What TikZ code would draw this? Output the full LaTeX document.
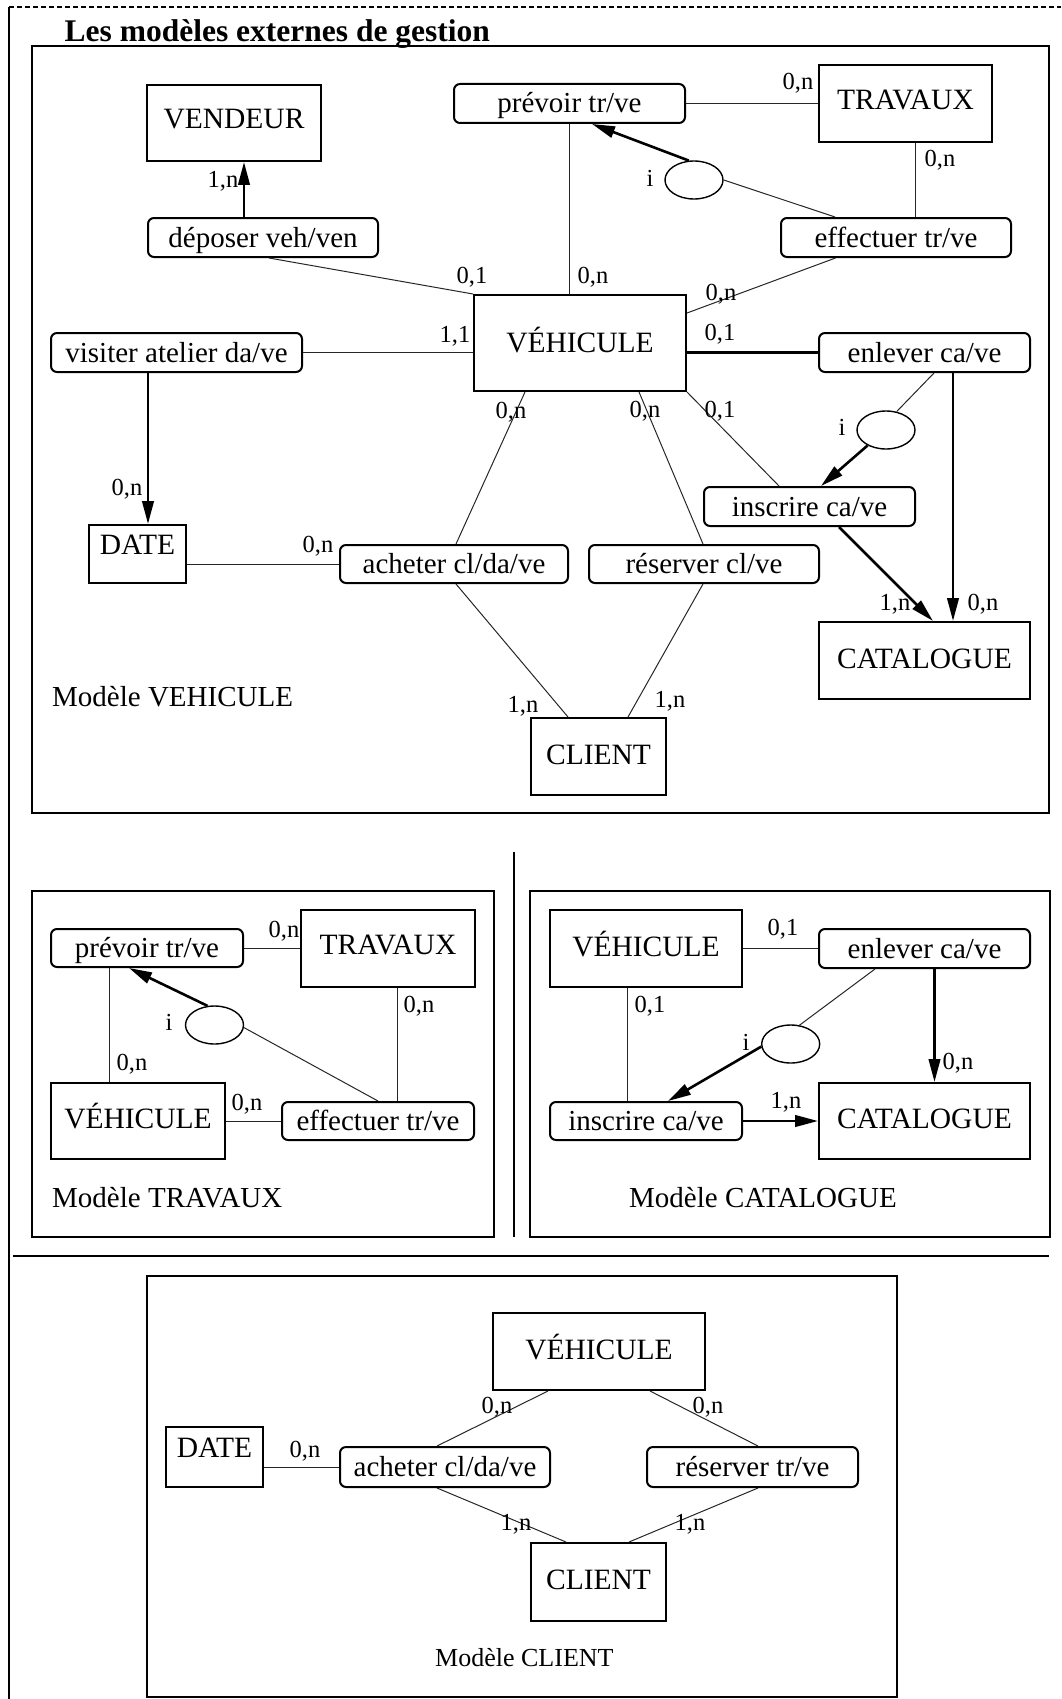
\documentclass[tikz,border=0pt]{standalone}
\usepackage{fontspec}
\setmainfont{Liberation Serif}
\usetikzlibrary{arrows.meta,shapes.geometric}
\tikzset{
  ent/.style={draw, line width=2pt, rectangle, inner sep=0pt, font=\fontsize{29.5}{31}\selectfont, text height=19pt, text depth=4pt},
  rel/.style={draw, line width=2pt, rounded corners=6pt, inner sep=0pt, font=\fontsize{29}{31}\selectfont, text height=23pt, text depth=4pt},
  card/.style={font=\fontsize{24.5}{26}\selectfont, inner sep=0pt, anchor=base},
  ttl/.style={font=\fontsize{29}{31}\selectfont, inner sep=0pt, anchor=base west},
  thn/.style={line width=1pt, black!85},
  thk/.style={line width=2.6pt},
  arr/.style={thk, -{Triangle[length=23pt,width=11.5pt]}},
  ass/.style={draw, ellipse, line width=1.4pt, minimum width=58pt, minimum height=38pt, inner sep=0pt},
  frame/.style={line width=2.2pt},
}
\begin{document}
\begin{tikzpicture}[x=1pt,y=-1pt]
\useasboundingbox (0,0) rectangle (1061,1699);
% page frame
\draw[line width=1.2pt, dash pattern=on 5pt off 3pt] (9,7) -- (1061,7);
\draw[line width=2pt] (9,7) -- (9,1699);
\node[font=\bfseries\fontsize{31.5}{33}\selectfont, inner sep=0pt, anchor=base west] (title) at (64.5,42) {Les modèles externes de gestion};
% ================= Modèle VEHICULE
\draw[frame] (32,46) rectangle (1049,813);
\node[ent, minimum width=174pt, minimum height=76pt, text depth=7pt] (ven) at (234,123) {VENDEUR};
\node[rel, minimum width=230pt, minimum height=39pt] (dep) at (263,237.5) {déposer veh/ven};
\node[rel, minimum width=231pt, minimum height=39pt] (pre) at (569.5,103.5) {prévoir tr/ve};
\node[ent, minimum width=173pt, minimum height=77pt, text depth=7pt] (tra) at (905.5,103.5) {TRAVAUX};
\node[rel, minimum width=230pt, minimum height=39pt] (eff) at (896,237.5) {effectuer tr/ve};
\node[ent, minimum width=212pt, minimum height=96pt, text depth=0pt] (veh) at (580,343) {VÉHICULE};
\node[rel, minimum width=251pt, minimum height=39pt] (vis) at (176.5,352.5) {visiter atelier da/ve};
\node[rel, minimum width=211pt, minimum height=39pt] (enl) at (924.5,352.5) {enlever ca/ve};
\node[ass] (e1) at (694,180) {};
\node[ass] (e2) at (886,430) {};
\node[rel, minimum width=211pt, minimum height=39pt] (ins) at (809.5,506.5) {inscrire ca/ve};
\node[ent, minimum width=97pt, minimum height=58pt, text depth=18pt] (dat) at (137.5,554) {DATE};
\node[rel, minimum width=228pt, minimum height=38pt] (ach) at (454,564) {acheter cl/da/ve};
\node[rel, minimum width=230pt, minimum height=38pt] (res) at (704,564) {réserver cl/ve};
\node[ent, minimum width=211pt, minimum height=77pt] (cat) at (924.5,660.5) {CATALOGUE};
\node[ent, minimum width=135pt, minimum height=77pt] (cli) at (598.5,756.5) {CLIENT};
\node[ttl] (m1) at (52,706) {Modèle VEHICULE};

\draw[arr] ([xshift=-19pt]dep.north) -- ([xshift=-19pt]dep.north |- ven.south);
\draw[thn] ([xshift=6pt]dep.south) -- (veh.north west);
\draw[thn] (vis.east) -- (vis.east -| veh.west);
\draw[arr] ([xshift=-28.5pt]vis.south) -- ([xshift=-28.5pt]vis.south |- dat.north);
\draw[thn] (ach.west -| dat.east) -- (ach.west);
\draw[thn] ([xshift=2pt]ach.north) -- ([xshift=-55pt]veh.south);
\draw[thn] ([xshift=2pt]ach.south) -- ([xshift=-30.5pt]cli.north);
\draw[thn] ([xshift=-1pt]res.north) -- ([xshift=59pt]veh.south);
\draw[thn] ([xshift=-1pt]res.south) -- ([xshift=29.5pt]cli.north);
\draw[thn] (veh.south east) -- ([xshift=-30.5pt]ins.north);
\draw[thk] (enl.west -| veh.east) -- (enl.west);
\draw[thn] ([yshift=30pt]veh.east) -- ([xshift=-60.5pt]eff.south);
\draw[thn] ([xshift=19pt]eff.north) -- ([xshift=19pt]eff.north |- tra.south);
\draw[thn] (pre.east) -- (pre.east -| tra.west);
\draw[thn] (pre.south) -- (pre.south |- veh.north);
\draw[arr] (e1.105) -- ([xshift=22.5pt]pre.south);
\draw[thn] (e1.east) -- ([xshift=-61pt]eff.north);
\draw[thn] ([xshift=9.5pt]enl.south) -- (e2.60);
\draw[arr] (e2.220) -- ([xshift=11.5pt]ins.north);
\draw[arr] ([xshift=29.5pt]ins.south) -- ([xshift=8.5pt]cat.north);
\draw[arr] ([xshift=28.5pt]enl.south) -- ([xshift=28.5pt]enl.south |- cat.north);

\node[card] at (223,188) {1,n};
\node[card] at (472,283) {0,1};
\node[card] at (455,342) {1,1};
\node[card] at (127,495) {0,n};
\node[card] at (318,552) {0,n};
\node[card] at (511,418) {0,n};
\node[card] at (523,712) {1,n};
\node[card] at (645,417) {0,n};
\node[card] at (670,707) {1,n};
\node[card] at (720,417) {0,1};
\node[card] at (720,340) {0,1};
\node[card] at (721,300) {0,n};
\node[card] at (940,167) {0,n};
\node[card] at (798,90) {0,n};
\node[card] at (593,283) {0,n};
\node[card] at (895,610) {1,n};
\node[card] at (983,610) {0,n};
\node[card] at (650,187) {i};
\node[card] at (842,435) {i};

% ================= Modèle TRAVAUX
\draw[frame] (32,891) rectangle (494,1237);
\draw[line width=1.6pt] (514,852) -- (514,1237);
\node[rel, minimum width=192pt, minimum height=38pt] (pr2) at (147,948) {prévoir tr/ve};
\node[ent, minimum width=174pt, minimum height=77pt, text depth=7pt] (tr2) at (388,948.5) {TRAVAUX};
\node[ent, minimum width=174pt, minimum height=76pt] (ve2) at (138,1121) {VÉHICULE};
\node[rel, minimum width=192pt, minimum height=38pt] (ef2) at (378,1121) {effectuer tr/ve};
\node[ass] (e3) at (214.5,1025) {};
\node[ttl] (m2) at (52,1207) {Modèle TRAVAUX};
\draw[thn] (pr2.east) -- (pr2.east -| tr2.west);
\draw[thn] ([xshift=-38pt]pr2.south) -- ([xshift=-38pt]pr2.south |- ve2.north);
\draw[thn] (ve2.east) -- (ef2.west);
\draw[thn] ([xshift=9pt]tr2.south) -- ([xshift=9pt]tr2.south |- ef2.north);
\draw[arr] (e3.110) -- ([xshift=-18pt]pr2.south);
\draw[thn] (e3.355) -- (ef2.north);
\node[card] at (284,937) {0,n};
\node[card] at (132,1070) {0,n};
\node[card] at (247,1110) {0,n};
\node[card] at (419,1012) {0,n};
\node[card] at (169,1030) {i};

% ================= Modèle CATALOGUE
\draw[frame] (530,891) rectangle (1050,1237);
\node[ent, minimum width=192pt, minimum height=77pt] (ve3) at (646,948.5) {VÉHICULE};
\node[rel, minimum width=211pt, minimum height=39pt] (en3) at (924.5,948.5) {enlever ca/ve};
\node[rel, minimum width=192pt, minimum height=38pt] (in3) at (646,1121) {inscrire ca/ve};
\node[ent, minimum width=211pt, minimum height=76pt] (ca3) at (924.5,1121) {CATALOGUE};
\node[ass] (e4) at (790.7,1044) {};
\node[ttl] (m3) at (629,1207) {Modèle CATALOGUE};
\draw[thn] (ve3.east) -- (en3.west);
\draw[thn] ([xshift=-18.4pt]ve3.south) -- ([xshift=-18.4pt]ve3.south |- in3.north);
\draw[arr] (in3.east) -- (ca3.west);
\draw[arr] ([xshift=10pt]en3.south) -- ([xshift=10pt]en3.south |- ca3.north);
\draw[thn] ([xshift=-49.5pt]en3.south) -- (e4.65);
\draw[arr] (e4.185) -- ([xshift=22pt]in3.north);
\node[card] at (783,935) {0,1};
\node[card] at (650,1012) {0,1};
\node[card] at (786,1108) {1,n};
\node[card] at (958,1069) {0,n};
\node[card] at (746,1050) {i};

% separator
\draw[line width=2.6pt] (13,1256) -- (1049,1256);

% ================= Modèle CLIENT
\draw[frame] (147,1276) rectangle (897,1697);
\node[ent, minimum width=212pt, minimum height=77pt] (ve4) at (599,1351.5) {VÉHICULE};
\node[ent, minimum width=97pt, minimum height=60pt, text depth=18pt] (da4) at (214.5,1457) {DATE};
\node[rel, minimum width=210pt, minimum height=40pt] (ac4) at (445,1467) {acheter cl/da/ve};
\node[rel, minimum width=211pt, minimum height=40pt] (re4) at (752.5,1467) {réserver tr/ve};
\node[ent, minimum width=135pt, minimum height=78pt] (cl4) at (598.5,1582) {CLIENT};
\node[ttl, font=\fontsize{26}{28}\selectfont] (m4) at (435,1666) {Modèle CLIENT};
\draw[thn] (ac4.west -| da4.east) -- (ac4.west);
\draw[thn] ([xshift=-8pt]ac4.north) -- ([xshift=-51pt]ve4.south);
\draw[thn] ([xshift=5.5pt]re4.north) -- ([xshift=51pt]ve4.south);
\draw[thn] ([xshift=-8pt]ac4.south) -- ([xshift=-32.5pt]cl4.north);
\draw[thn] ([xshift=5.5pt]re4.south) -- ([xshift=30.5pt]cl4.north);
\node[card] at (305,1457) {0,n};
\node[card] at (497,1413) {0,n};
\node[card] at (708,1413) {0,n};
\node[card] at (516,1530) {1,n};
\node[card] at (690,1530) {1,n};
\end{tikzpicture}
\end{document}
